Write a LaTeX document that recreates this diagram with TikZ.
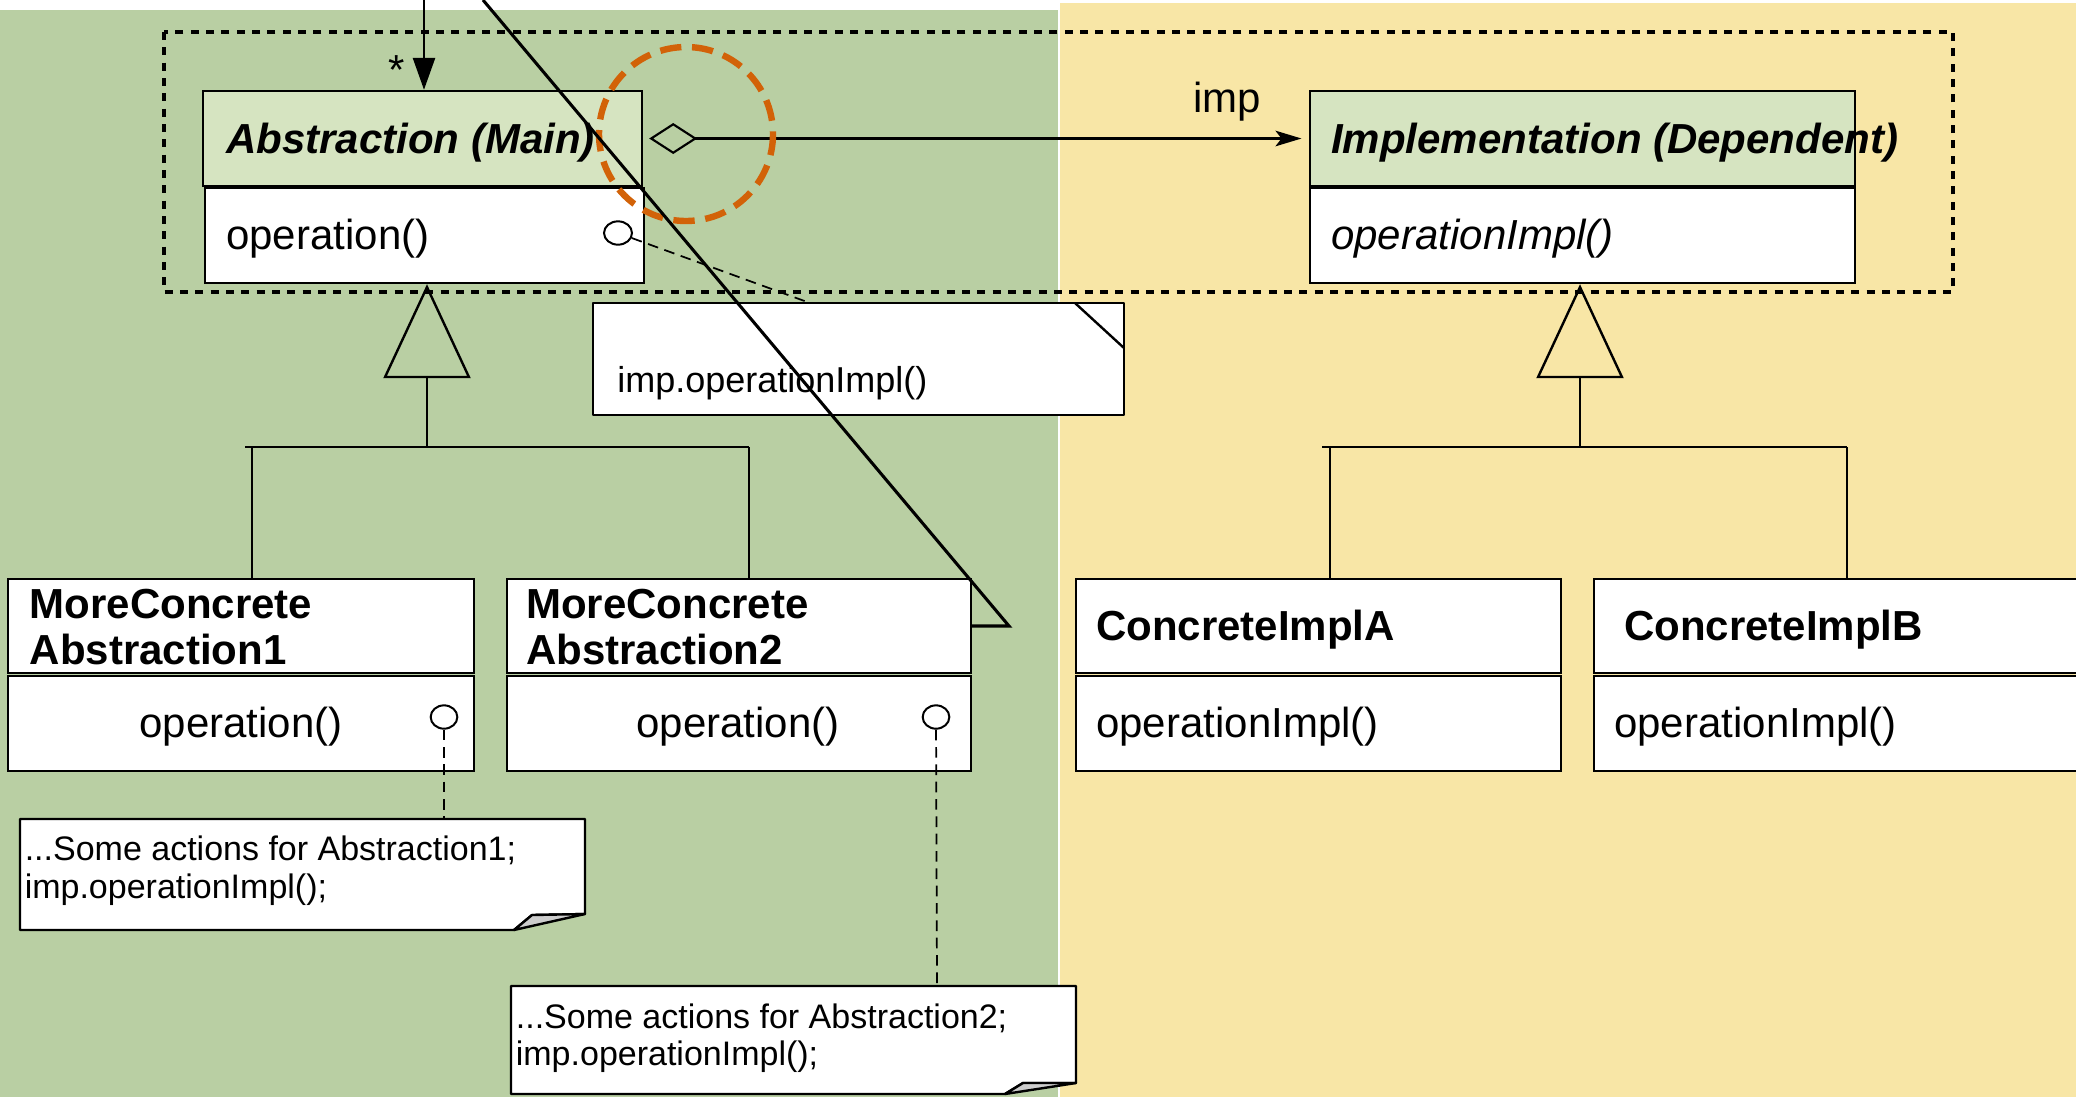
\documentclass[tikz,border=0pt]{standalone}
\usepackage{fontspec}
\setmainfont{Liberation Sans}
\usepackage{xcolor}
\usepackage{tikz}
\usetikzlibrary{arrows.meta, fit, shapes.geometric}

\definecolor{leftbg}{RGB}{185,207,163}
\definecolor{rightbg}{RGB}{248,230,166}
\definecolor{headfill}{RGB}{214,228,193}
\definecolor{markorange}{RGB}{210,98,8}
\definecolor{curlgray}{RGB}{205,205,205}

\tikzset{
  classbox/.style={draw, line width=1.8pt, inner sep=0pt},
  headbox/.style={classbox, fill=headfill},
  opbox/.style={classbox, fill=white},
  ctitle/.style={font=\fontsize{31.5}{34.5}\selectfont\bfseries, inner sep=0pt, align=left},
  atitle/.style={font=\fontsize{31.5}{34.5}\selectfont\bfseries\itshape, inner sep=0pt},
  ctext/.style={font=\fontsize{31.5}{34.5}\selectfont, inner sep=0pt},
  atext/.style={font=\fontsize{31.5}{34.5}\selectfont\itshape, inner sep=0pt},
  ntext/.style={font=\fontsize{25.5}{28}\selectfont, inner sep=0pt, align=left},
  umlline/.style={line width=1.8pt},
  port/.style={draw, ellipse, line width=1.5pt, fill=white, minimum width=20pt, minimum height=17.5pt, inner sep=0pt},
  portlink/.style={line width=1.3pt, dash pattern=on 8pt off 5pt},
  notebox/.style={draw, line width=1.8pt, fill=white, line join=round, inner sep=0pt},
}

\begin{document}
\begin{tikzpicture}[x=0.75pt,y=0.75pt,yscale=-1,xscale=1]
\useasboundingbox (0,0) rectangle (2076,1097);
\clip (0,0) rectangle (2076,1097);

%Shape: Backgrounds
\fill[white] (0,0) rectangle (2076,1097);
\fill[leftbg] (0,10) rectangle (1058,1097);
\fill[rightbg] (1060,3) rectangle (2076,1097);

%Shape: Dotted frame
\draw[line width=2.5pt, dash pattern=on 6pt off 5.5pt] (164,32) rectangle (1953,292);

%Shape: Abstraction (Main)
\node[headbox, fit={(203,91) (642,186)}] (abshead) {};
\node[opbox, fit={(205,188) (644,283)}] (absops) {};
% Text Node
\node[atitle, anchor=base west] (absname) at (226,153) {Abstraction (Main)};
\node[ctext, anchor=base west] (absop) at (226,249) {operation()};
\node[port, minimum width=21pt] (absport) at (618,233) {};

%Shape: Implementation (Dependent)
\node[headbox, fit={(1310,91) (1855,186)}] (implhead) {};
\node[opbox, fit={(1310,188) (1855,283)}] (implops) {};
% Text Node
\node[atitle, anchor=base west] (implname) at (1331,153) {Implementation (Dependent)};
\node[atext, anchor=base west] (implop) at (1331,249) {operationImpl()};

%Straight Lines: aggregation
\draw[umlline, line width=1.6pt, {Diamond[open,length=36pt,width=23.25pt]}-{Stealth[length=19.5pt,width=11.7pt,inset=4.5pt]}, shorten <=4.5pt, shorten >=5.5pt] (abshead.east) -- (implhead.west);
\node[ctext, anchor=base west] (implrole) at (1193,112) {imp};

%Straight Lines: incoming arrow
\coordinate (topin) at (424,0);
\draw[umlline, line width=2pt, -{Triangle[length=24pt,width=16.5pt]}] (topin) -- (topin |- abshead.north);
\node[ctext, anchor=base] (mult) at (397,84) {*};

%Shape: Note imp.operationImpl()
\node[notebox, fit={(593,303) (1124,415)}] (implnote) {};
\draw[umlline] (1075,303) -- (1124,348);
\node[ntext, font=\fontsize{27}{30}\selectfont, anchor=base west] (implnotetext) at (617,392) {imp.operationImpl()};
\coordinate (absnotein) at (810,303);
\draw[portlink] (absport) -- (absnotein);

%Shape: MoreConcrete Abstraction1
\node[classbox, fill=white, fit={(8,579) (474,673)}] (mca1head) {};
\node[opbox, fit={(8,676) (474,771)}] (mca1ops) {};
\node[ctitle, anchor=base west] (mca1name) at (29.5,664) {MoreConcrete\\Abstraction1};
\node[ctext, anchor=base] (mca1op) at (241,737) {operation()};
\node[port] (mca1port) at (444,717) {};

%Shape: MoreConcrete Abstraction2
\node[classbox, fill=white, fit={(507,579) (971,673)}] (mca2head) {};
\node[opbox, fit={(507,676) (971,771)}] (mca2ops) {};
\node[ctitle, anchor=base west] (mca2name) at (526,664) {MoreConcrete\\Abstraction2};
\node[ctext, anchor=base] (mca2op) at (738,737) {operation()};
\node[port] (mca2port) at (936,717) {};

%Shape: ConcreteImplA
\node[classbox, fill=white, fit={(1076,579) (1561,673)}] (cia) {};
\node[opbox, fit={(1076,676) (1561,771)}] (ciaops) {};
\node[ctitle, anchor=base west] (cianame) at (1096,640) {ConcreteImplA};
\node[ctext, anchor=base west] (ciaop) at (1096,737) {operationImpl()};

%Shape: ConcreteImplB
\node[classbox, fill=white, fit={(1594,579) (2090,673)}] (cib) {};
\node[opbox, fit={(1594,676) (2090,771)}] (cibops) {};
\node[ctitle, anchor=base west] (cibname) at (1624,640) {ConcreteImplB};
\node[ctext, anchor=base west] (cibop) at (1614,737) {operationImpl()};

%Straight Lines: generalisation, left
\coordinate (lbar) at (427,447);
\coordinate (lbarL) at (245,447);
\coordinate (lbarR) at (749,447);
\coordinate (lj1) at (252,447);
\draw[umlline, -{Triangle[open,length=70.5pt,width=65.25pt]}] (lbar) -- (lbar |- absops.south);
\draw[umlline] (lbarL) -- (lbarR);
\draw[umlline] (lj1) -- (lj1 |- mca1head.north);
\draw[umlline] (lbarR) -- (lbarR |- mca2head.north);

%Straight Lines: generalisation, right
\coordinate (rbar) at (1580,447);
\coordinate (rbarL) at (1322,447);
\coordinate (rbarR) at (1847,447);
\coordinate (rj1) at (1330,447);
\draw[umlline, -{Triangle[open,length=70.5pt,width=65.25pt]}] (rbar) -- (rbar |- implops.south);
\draw[umlline] (rbarL) -- (rbarR);
\draw[umlline] (rj1) -- (rj1 |- cia.north);
\draw[umlline] (rbarR) -- (rbarR |- cib.north);

%Shape: Note for Abstraction1
\draw[notebox] (20,819) -- (585,819) -- (585,914) -- (532,915) -- (514,930) -- (20,930) -- cycle;
\draw[notebox, fill=curlgray] (514,930) -- (532,915) -- (585,914) -- cycle;
\node[ntext, anchor=base west] (note1) at (24.5,898) {...Some actions for Abstraction1;\\imp.operationImpl();};
\coordinate (note1top) at (444,819);
\draw[portlink] (mca1port) -- (note1top);

%Shape: Note for Abstraction2
\draw[notebox] (511,986) -- (1076,986) -- (1076,1083) -- (1023,1083) -- (1005,1094) -- (511,1094) -- cycle;
\draw[notebox, fill=curlgray] (1005,1094) -- (1023,1083) -- (1076,1083) -- cycle;
\node[ntext, anchor=base west] (note2) at (515.6,1065.5) {...Some actions for Abstraction2;\\imp.operationImpl();};
\coordinate (note2top) at (937,986);
\draw[portlink] (mca2port) -- (note2top);

%Shape: highlight circle
\draw[markorange, line width=4.8pt, dash pattern=on 16pt off 8pt] (686,134) circle[radius=87];

%Straight Lines: crossing line
\coordinate (diagtop) at (483,0);
\coordinate (diagend) at (1009,626);
\draw[line width=2.3pt] (diagtop) -- (diagend) -- (diagend -| mca2head.east);

\end{tikzpicture}
\end{document}
